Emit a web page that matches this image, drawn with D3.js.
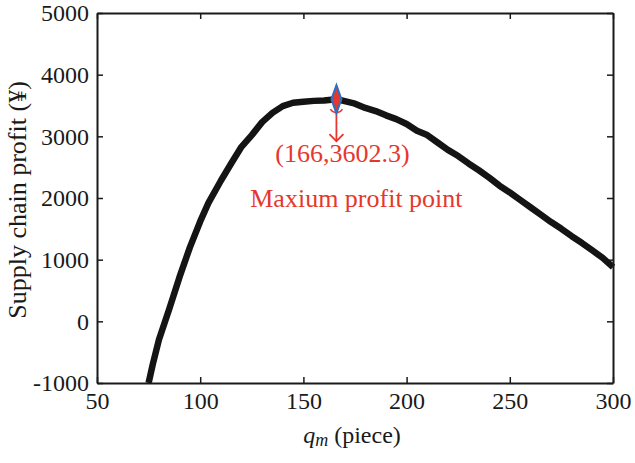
<!DOCTYPE html>
<html>
<head>
<meta charset="utf-8">
<script src="https://cdn.jsdelivr.net/npm/d3@7"></script>
<style>
  body { margin: 0; background: #fff; }
  text { font-family: "Liberation Serif", "Times New Roman", serif; }
</style>
</head>
<body>
<svg id="chart"></svg>
<script>
// order quantity q_m (piece)
const qValues = [75, 77, 80, 85, 90, 95, 100, 104, 110, 115, 120, 125, 130, 135, 140, 145, 150, 155, 160, 166,
    170, 175, 180, 185, 190, 195, 200, 205, 210, 215, 220, 225, 230, 235, 240, 245, 250, 255, 260, 265,
    270, 275, 280, 285, 290, 295, 300];
// supply chain profit (yuan)
const profitValues = [-1000, -700, -300, 200, 720, 1200, 1620, 1920, 2280, 2560, 2830, 3020, 3230, 3380, 3490, 3545, 3560, 3575, 3580, 3602.3,
    3570, 3530, 3460, 3410, 3340, 3280, 3200, 3090, 3020, 2900, 2780, 2680, 2560, 2450, 2330, 2200, 2090, 1970, 1850, 1730,
    1610, 1500, 1380, 1270, 1150, 1030, 880];
const xTicks = [50, 100, 150, 200, 250, 300];
const yTicks = [-1000, 0, 1000, 2000, 3000, 4000, 5000];
const maxPoint = { q: 166, profit: 3602.3 };

const svgWidth = 635, svgHeight = 463;
const margin = { top: 13, right: 22, bottom: 80, left: 97 };
const width = svgWidth - margin.left - margin.right;
const height = svgHeight - margin.top - margin.bottom;
const red = "#e5372d";
const serif = '"Liberation Serif", "Times New Roman", serif';

const data = qValues.map(function(q, i) { return { q: q, v: profitValues[i] }; });

const svg = d3.select("#chart").attr("width", svgWidth).attr("height", svgHeight);
const g = svg.append("g").attr("transform", "translate(" + margin.left + "," + margin.top + ")");

const x = d3.scaleLinear().domain([50, 300]).range([0, width]);
const y = d3.scaleLinear().domain([-1000, 5000]).range([height, 0]);

// the curve
const line = d3.line().x(function(d) { return x(d.q); }).y(function(d) { return y(d.v); });
g.append("path")
    .datum(data)
    .attr("fill", "none")
    .attr("stroke", "#141414")
    .attr("stroke-width", 6.5)
    .attr("stroke-linejoin", "round")
    .attr("d", line);

// axes, ticks inward on all four sides
function styleAxis(sel) {
    sel.attr("font-family", serif);
    sel.selectAll("path").attr("stroke", "#1a1a1a").attr("stroke-width", 2);
    sel.selectAll("line").attr("stroke", "#1a1a1a").attr("stroke-width", 1.5);
    sel.selectAll("text").attr("font-size", 24).attr("fill", "#1a1a1a");
}
const plain = function(d) { return String(d); };
g.append("g").attr("transform", "translate(0," + height + ")")
    .call(d3.axisBottom(x).tickValues(xTicks).tickSizeInner(-6).tickSizeOuter(0).tickPadding(9).tickFormat(plain))
    .call(styleAxis)
    .selectAll("text").attr("dy", "0.71em");
g.append("g")
    .call(d3.axisTop(x).tickValues(xTicks).tickSizeInner(-6).tickSizeOuter(0).tickFormat(""))
    .call(styleAxis);
g.append("g")
    .call(d3.axisLeft(y).tickValues(yTicks).tickSizeInner(-6).tickSizeOuter(0).tickPadding(8).tickFormat(plain))
    .call(styleAxis);
g.append("g").attr("transform", "translate(" + width + ",0)")
    .call(d3.axisRight(y).tickValues(yTicks).tickSizeInner(-6).tickSizeOuter(0).tickFormat(""))
    .call(styleAxis);

// maximum marker
const mx = x(maxPoint.q), my = y(maxPoint.profit);
g.append("path")
    .attr("d", "M" + (mx - 6) + "," + (my + 10) + " A7,7 0 0 0 " + (mx + 6) + "," + (my + 10))
    .attr("fill", "none").attr("stroke", red).attr("stroke-width", 1.5);
g.append("line")
    .attr("x1", mx).attr("x2", mx).attr("y1", my + 8).attr("y2", my + 42)
    .attr("stroke", red).attr("stroke-width", 1.8);
g.append("path")
    .attr("d", "M" + (mx - 7) + "," + (my + 35) + " L" + mx + "," + (my + 42) + " L" + (mx + 7) + "," + (my + 35))
    .attr("fill", "none").attr("stroke", red).attr("stroke-width", 1.8);
g.append("path")
    .attr("d", "M" + mx + "," + (my - 14) + " L" + (mx + 5) + "," + my + " L" + mx + "," + (my + 14) + " L" + (mx - 5) + "," + my + "Z")
    .attr("fill", red).attr("stroke", "#2f6fc0").attr("stroke-width", 2);

g.append("text")
    .attr("x", mx + 6).attr("y", my + 63)
    .attr("text-anchor", "middle")
    .attr("font-size", 26).attr("fill", red)
    .text("(" + maxPoint.q + "," + maxPoint.profit + ")");
g.append("text")
    .attr("x", mx + 20).attr("y", my + 108)
    .attr("text-anchor", "middle")
    .attr("font-size", 26).attr("fill", red)
    .text("Maxium profit point");

// axis titles
svg.append("text")
    .attr("transform", "translate(26,200) rotate(-90)")
    .attr("text-anchor", "middle")
    .attr("font-size", 26).attr("fill", "#1a1a1a")
    .text("Supply chain profit (¥)");

const xt = svg.append("text")
    .attr("x", 352).attr("y", 443)
    .attr("text-anchor", "middle")
    .attr("font-size", 24).attr("fill", "#1a1a1a");
xt.append("tspan").attr("font-style", "italic").text("q");
xt.append("tspan").attr("font-style", "italic").attr("font-size", 18).attr("dy", 3).text("m");
xt.append("tspan").attr("dy", -3).text(" (piece)");
</script>
</body>
</html>
